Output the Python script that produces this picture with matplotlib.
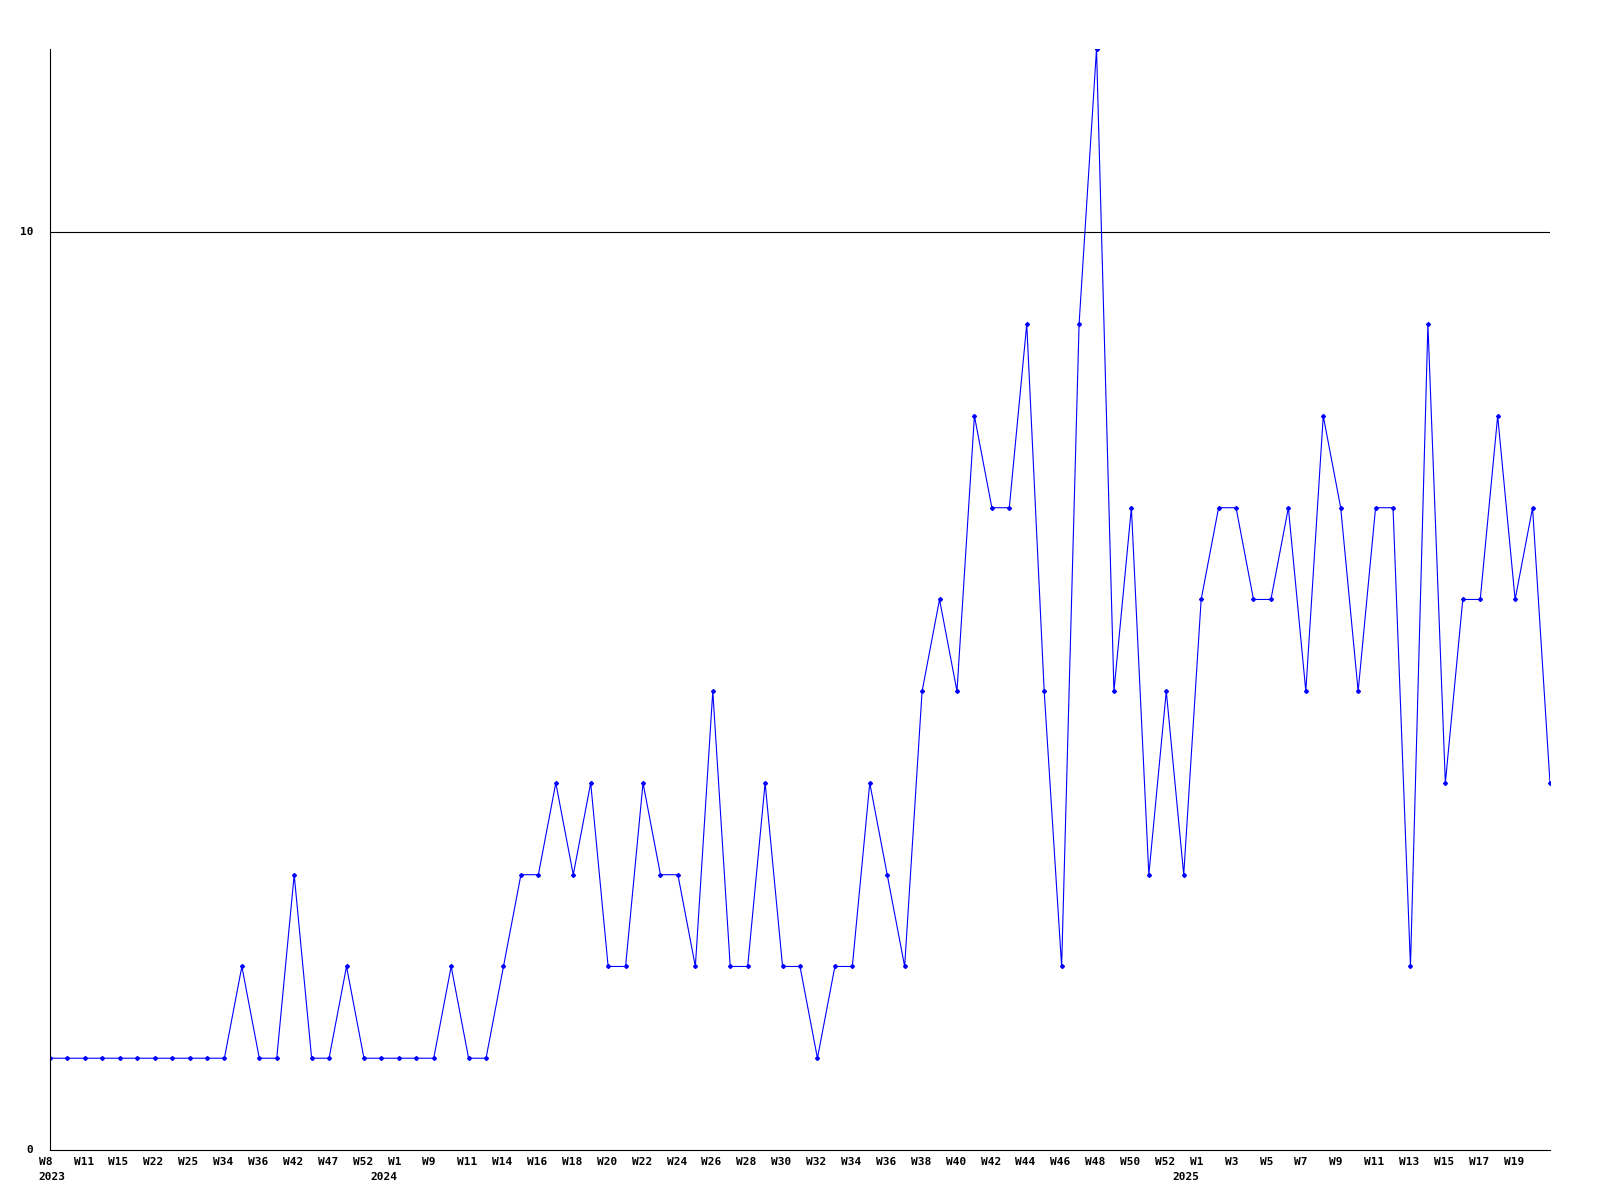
import matplotlib
matplotlib.use("Agg")
import matplotlib.pyplot as plt

values = [1, 1, 1, 1, 1, 1, 1, 1, 1, 1, 1, 2, 1, 1, 3, 1, 1, 2, 1, 1,
          1, 1, 1, 2, 1, 1, 2, 3, 3, 4, 3, 4, 2, 2, 4, 3, 3, 2, 5, 2,
          2, 4, 2, 2, 1, 2, 2, 4, 3, 2, 5, 6, 5, 8, 7, 7, 9, 5, 2, 9,
          12, 5, 7, 3, 5, 3, 6, 7, 7, 6, 6, 7, 5, 8, 7, 5, 7, 7, 2, 9,
          4, 6, 6, 8, 6, 7, 4]

week_labels = ["W8", "W11", "W15", "W22", "W25", "W34", "W36", "W42", "W47", "W52",
               "W1", "W9", "W11", "W14", "W16", "W18", "W20", "W22", "W24", "W26",
               "W28", "W30", "W32", "W34", "W36", "W38", "W40", "W42", "W44", "W46",
               "W48", "W50", "W52", "W1", "W3", "W5", "W7", "W9", "W11", "W13",
               "W15", "W17", "W19"]
year_labels = {0: "2023", 20: "2024", 66: "2025"}

font = dict(family="DejaVu Sans Mono", fontweight="bold", fontsize=8)

fig = plt.figure(figsize=(16, 12), dpi=100)
ax = fig.add_axes([0.03125, 0.0417, 0.9375, 0.9175])

x = list(range(len(values)))
ax.axhline(10, color="black", lw=0.8, zorder=1)
ax.plot(x, values, color="#0000ff", lw=0.8, marker="D", ms=2, zorder=2)

ax.set_xlim(0, len(values) - 1)
ax.set_ylim(0, 12)
for s in ["top", "right"]:
    ax.spines[s].set_visible(False)
for s in ["left", "bottom"]:
    ax.spines[s].set_linewidth(0.8)
    ax.spines[s].set_color("black")

ax.set_xticks([])
ax.set_yticks([])
tr = ax.get_xaxis_transform()
for i, lab in enumerate(week_labels):
    ax.text(i * 2 - 0.65, -0.006, lab, transform=tr, ha="left", va="top", **font)
for i, lab in year_labels.items():
    if i == 0:
        ax.text(-0.65, -0.02, lab, transform=tr, ha="left", va="top", **font)
    else:
        ax.text(i - 0.85, -0.02, lab, transform=tr, ha="center", va="top", **font)

ytr = ax.get_yaxis_transform()
for v in [0, 10]:
    ax.text(-0.011, v, str(v), transform=ytr, ha="right", va="center", **font)

fig.savefig("out.png", dpi=100)
